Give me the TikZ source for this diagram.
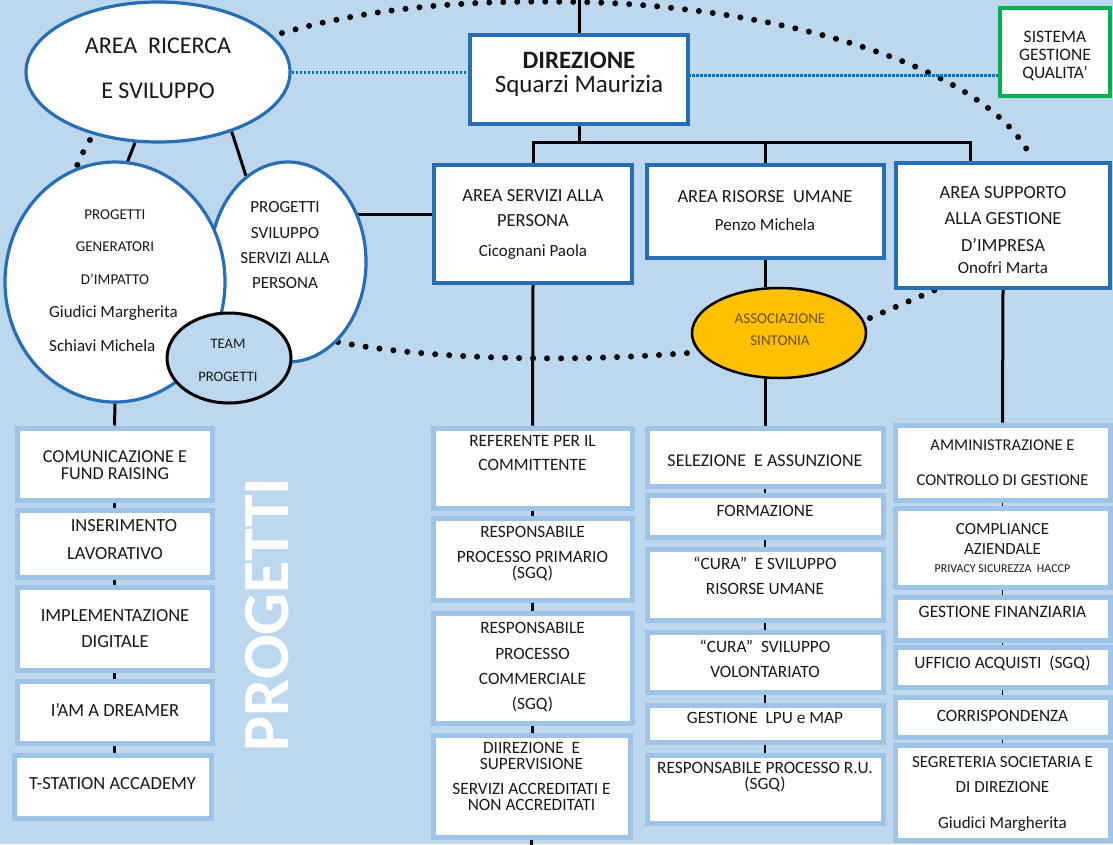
\documentclass[tikz,border=0pt]{standalone}
\usepackage{fontspec}
\setmainfont{Carlito}
\usetikzlibrary{shapes.geometric,calc}
\pgfdeclarelayer{bglayer}
\pgfdeclarelayer{conlayer}
\pgfsetlayers{bglayer,conlayer,main}
\definecolor{bgc}{RGB}{189,215,238}
\definecolor{bordblue}{RGB}{40,110,180}
\definecolor{lightbord}{RGB}{157,195,230}
\definecolor{dotblue}{RGB}{0,112,192}
\definecolor{sgqgreen}{RGB}{0,176,80}
\definecolor{gold}{RGB}{255,192,0}
\definecolor{goldtxt}{RGB}{110,80,0}
\definecolor{txtc}{RGB}{25,25,25}
\newcommand\myfs[2]{\fontsize{#1}{#2}\selectfont}
\newcommand\rbox[6]{\node[#1, minimum width=#5-#3, minimum height=#6-#4] (#2) at ({(#3+#5)/2},{(#4+#6)/2}) {};}
\begin{document}
\begin{tikzpicture}[x=1pt,y=-1pt,
  bigbox/.style={draw=bordblue, line width=4pt, fill=white, inner sep=0pt},
  lbox/.style={draw=lightbord, line width=5pt, fill=white, inner sep=0pt},
  sgqbox/.style={draw=sgqgreen, line width=3.5pt, fill=white, inner sep=0pt},
  ell/.style={ellipse, draw=bordblue, line width=3.2pt, fill=white, inner sep=0pt},
  teamell/.style={ellipse, draw=black, line width=3pt, fill=bgc, inner sep=0pt},
  sinell/.style={ellipse, draw=black, line width=2.5pt, fill=gold, inner sep=0pt},
  conn/.style={line width=3pt, black},
  tick/.style={line width=2.5pt, black},
  bigdots/.style={line width=6pt, dash pattern=on 0pt off 14pt, line cap=round, black},
  bluedots/.style={line width=3pt, dash pattern=on 2.5pt off 1.5pt, dotblue},
  txt/.style={align=center, inner sep=0pt, anchor=north, text=txtc}]
\useasboundingbox (0,0) rectangle (1113,844);
\begin{pgfonlayer}{bglayer}
\fill[bgc] (0,0) rectangle (1113,844);
\end{pgfonlayer}

% ---------- nodes ----------
\node[ell, minimum width=264, minimum height=140] (ric) at (158,72) {};
\node[ell, minimum width=156, minimum height=200] (svi) at (288,262) {};
\node[ell, minimum width=220, minimum height=240] (gen) at (115,282) {};
\node[teamell, minimum width=124, minimum height=90] (team) at (229,358) {};
\node[sinell, minimum width=174, minimum height=90] (sin) at (779,333) {};

\rbox{bigbox}{dir}{470}{35}{688}{124}
\rbox{bigbox}{asp}{434}{165}{632}{283}
\rbox{bigbox}{arum}{647}{165}{884}{258}
\rbox{bigbox}{asg}{896}{163}{1110}{288}
\rbox{sgqbox}{sgq}{1000}{8}{1110}{96}

\rbox{lbox}{com}{17}{428}{212}{500}
\rbox{lbox}{ins}{17}{510}{212}{577}
\rbox{lbox}{imp}{17}{587}{212}{670}
\rbox{lbox}{dre}{17}{681}{212}{743}
\rbox{lbox}{tst}{14}{755}{211}{818}

\rbox{lbox}{ref}{433}{428}{632}{508}
\rbox{lbox}{rpp}{433}{518}{632}{600}
\rbox{lbox}{rpc}{433}{613}{632}{723}
\rbox{lbox}{dii}{433}{735}{630}{837}

\rbox{lbox}{sel}{647}{428}{883}{486}
\rbox{lbox}{for}{647}{495}{883}{537}
\rbox{lbox}{cur}{647}{549}{883}{620}
\rbox{lbox}{vol}{647}{632}{883}{692}
\rbox{lbox}{lpu}{647}{705}{883}{742}
\rbox{lbox}{rru}{647}{755}{883}{823}

\rbox{lbox}{amm}{895}{425}{1110}{500}
\rbox{lbox}{cpl}{895}{508}{1110}{587}
\rbox{lbox}{gfi}{895}{597}{1110}{640}
\rbox{lbox}{uac}{895}{647}{1110}{687}
\rbox{lbox}{cor}{895}{697}{1110}{737}
\rbox{lbox}{seg}{895}{745}{1110}{840}

% ---------- coordinates ----------
\coordinate (topc) at (579,-3);
\coordinate (busL) at (533,142);
\coordinate (busR) at (970,142);
\coordinate (botc) at (531.5,847);
\coordinate (arcS) at (282,33);
\coordinate (arcE) at (1030,155);
\coordinate (dl1) at (90,140);
\coordinate (dl2) at (76,168);
\coordinate (bS) at (338,342);
\coordinate (bE) at (700,352);
\coordinate (sdS) at (870,318);
\coordinate (sdE) at (935,290);
\coordinate (bd1) at (688,75);

% ---------- connectors ----------
\begin{pgfonlayer}{conlayer}
\draw[conn] (topc) -- (dir.north);
\draw[conn] (dir.south) -- (dir.south |- busL);
\draw[conn] (asp.north) -- (busL) -- (busR) -- (busR |- asg.north);
\draw[conn] (arum.north) -- (arum.north |- busL);
\draw[conn] (ric.252) -- (gen.84);
\draw[conn] (ric.-39) -- (svi.116);
\draw[conn] (svi.34) -- (svi.34 -| asp.west);
\draw[conn] (gen.south) -- (com.north);
\draw[conn] (asp.south) -- (ref.north);
\draw[conn] (dii.south) -- (botc);
\draw[conn] (arum.south) -- (arum.south |- sin.north);
\draw[conn] (arum.south |- sin.south) -- (arum.south |- sel.north);
\draw[conn] (asg.south) -- (amm.north);
\draw[tick] (com.south) -- (ins.north);
\draw[tick] (ins.south) -- (imp.north);
\draw[tick] (imp.south) -- (dre.north);
\draw[tick] (dre.south) -- (dre.south |- tst.north);
\draw[tick] (ref.south) -- (rpp.north);
\draw[tick] (rpp.south) -- (rpc.north);
\draw[tick] (rpc.south) -- (rpc.south |- dii.north);
\draw[tick] (sel.south) -- (for.north);
\draw[tick] (for.south) -- (cur.north);
\draw[tick] (cur.south) -- (vol.north);
\draw[tick] (vol.south) -- (lpu.north);
\draw[tick] (lpu.south) -- (rru.north);
\draw[tick, line width=1.8pt] (amm.south) -- (cpl.north);
\draw[tick, line width=1.8pt] (cpl.south) -- (gfi.north);
\draw[tick, line width=1.8pt] (gfi.south) -- (uac.north);
\draw[tick, line width=1.8pt] (uac.south) -- (cor.north);
\draw[tick, line width=1.8pt] (cor.south) -- (seg.north);
% dotted
\draw[bigdots] (arcS) .. controls (380,5) and (480,0) .. (578,2) .. controls (760,5) and (980,60) .. (arcE);
\draw[bigdots] (dl1) .. controls (84,150) .. (dl2);
\draw[bigdots] (bS) .. controls (420,358) and (560,364) .. (bE);
\draw[bigdots] (sdS) -- (sdE);
\draw[bluedots] (ric.east) -- (ric.east -| dir.west);
\draw[bluedots] (bd1) -- (bd1 -| sgq.west);
\end{pgfonlayer}

% ---------- texts ----------
\node[txt, font=\myfs{24}{45}] at (158,37.5) {AREA\ \ RICERCA\\E SVILUPPO};
\node[txt, font=\myfs{15}{32.5}] at (115,209.2) {PROGETTI\\GENERATORI\\D’IMPATTO};
\node[txt, anchor=north west, align=left, font=\myfs{17}{34}] at (49,305.5) {Giudici Margherita\\Schiavi Michela};
\node[txt, font=\myfs{17}{25.3}] at (285,201.5) {PROGETTI\\SVILUPPO\\SERVIZI ALLA\\PERSONA};
\node[txt, font=\myfs{14.5}{33}] at (228,338.5) {TEAM\\PROGETTI};
\node[txt, font=\myfs{25}{24}] at (579,52) {\bfseries DIREZIONE\\Squarzi Maurizia};
\node[txt, font=\myfs{17.5}{18}] at (1055,30.5) {SISTEMA\\GESTIONE\\QUALITA’};
\node[txt, font=\myfs{18.5}{25}] at (533,189) {AREA SERVIZI ALLA\\PERSONA};
\node[txt, font=\myfs{17}{20}] at (533,244.5) {Cicognani Paola};
\node[txt, font=\myfs{18.5}{25}] at (765,190) {AREA RISORSE\ \ UMANE};
\node[txt, font=\myfs{17}{20}] at (765,218.5) {Penzo Michela};
\node[txt, font=\myfs{18.5}{26.5}] at (1003,186) {AREA SUPPORTO\\ALLA GESTIONE\\D’IMPRESA};
\node[txt, font=\myfs{17}{20}] at (1003,261.5) {Onofri Marta};
\node[txt, text=goldtxt, font=\myfs{15}{22}] at (780,313.2) {ASSOCIAZIONE\\SINTONIA};
\node[rotate=90, inner sep=0pt, text=white, font=\myfs{66}{66}\bfseries] at (267.5,614.5) {PROGETTI};

\node[txt, font=\myfs{18.2}{16.5}] at (115,450.5) {COMUNICAZIONE E\\FUND RAISING};
\node[txt, font=\myfs{18.5}{28}] at (115,519) {\hspace*{18pt}INSERIMENTO\\LAVORATIVO};
\node[txt, font=\myfs{18.5}{26}] at (115,609) {IMPLEMENTAZIONE\\DIGITALE};
\node[txt, font=\myfs{18.5}{26}] at (115,703) {I’AM A DREAMER};
\node[txt, font=\myfs{18.5}{26}] at (112.5,777) {T-STATION ACCADEMY};

\node[txt, font=\myfs{17.3}{24}] at (532.5,435.5) {REFERENTE PER IL\\COMMITTENTE};
\node[txt, font=\myfs{17.3}{16}] at (532.5,526.5) {RESPONSABILE\\[9pt]PROCESSO PRIMARIO\\(SGQ)};
\node[txt, font=\myfs{17.3}{25.3}] at (532.5,622.5) {RESPONSABILE\\PROCESSO\\COMMERCIALE\\(SGQ)};
\node[txt, font=\myfs{17.3}{16}] at (531.5,742.5) {DIIREZIONE\ \ E\\SUPERVISIONE\\[9pt]SERVIZI ACCREDITATI E\\NON ACCREDITATI};

\node[txt, font=\myfs{18}{25}] at (765,455) {SELEZIONE\ \ E ASSUNZIONE};
\node[txt, font=\myfs{17.3}{25}] at (765,505.5) {FORMAZIONE};
\node[txt, font=\myfs{17.3}{25}] at (765,556.5) {“CURA”\ \ E SVILUPPO\\RISORSE UMANE};
\node[txt, font=\myfs{17.3}{25}] at (765,639.5) {“CURA”\ \ SVILUPPO\\VOLONTARIATO};
\node[txt, font=\myfs{17.3}{25}] at (765,712.5) {GESTIONE\ \ LPU e MAP};
\node[txt, font=\myfs{17.3}{16}] at (765,762.5) {RESPONSABILE PROCESSO R.U.\\(SGQ)};

\node[txt, font=\myfs{16.5}{35}] at (1002.5,439.5) {AMMINISTRAZIONE E\\CONTROLLO DI GESTIONE};
\node[txt, font=\myfs{17}{20}] at (1002.5,523.5) {COMPLIANCE\\AZIENDALE};
\node[txt, font=\myfs{12}{14}] at (1002.5,565) {PRIVACY SICUREZZA\ \ HACCP};
\node[txt, font=\myfs{17.5}{25}] at (1002.5,605.5) {GESTIONE FINANZIARIA};
\node[txt, font=\myfs{17.3}{25}] at (1002.5,655.5) {UFFICIO ACQUISTI\ \ (SGQ)};
\node[txt, font=\myfs{17.3}{25}] at (1002.5,710.5) {CORRISPONDENZA};
\node[txt, font=\myfs{17}{25}] at (1002.5,756.5) {SEGRETERIA SOCIETARIA E\\DI DIREZIONE};
\node[txt, font=\myfs{17}{20}] at (1002.5,816.5) {Giudici Margherita};
\end{tikzpicture}
\end{document}
